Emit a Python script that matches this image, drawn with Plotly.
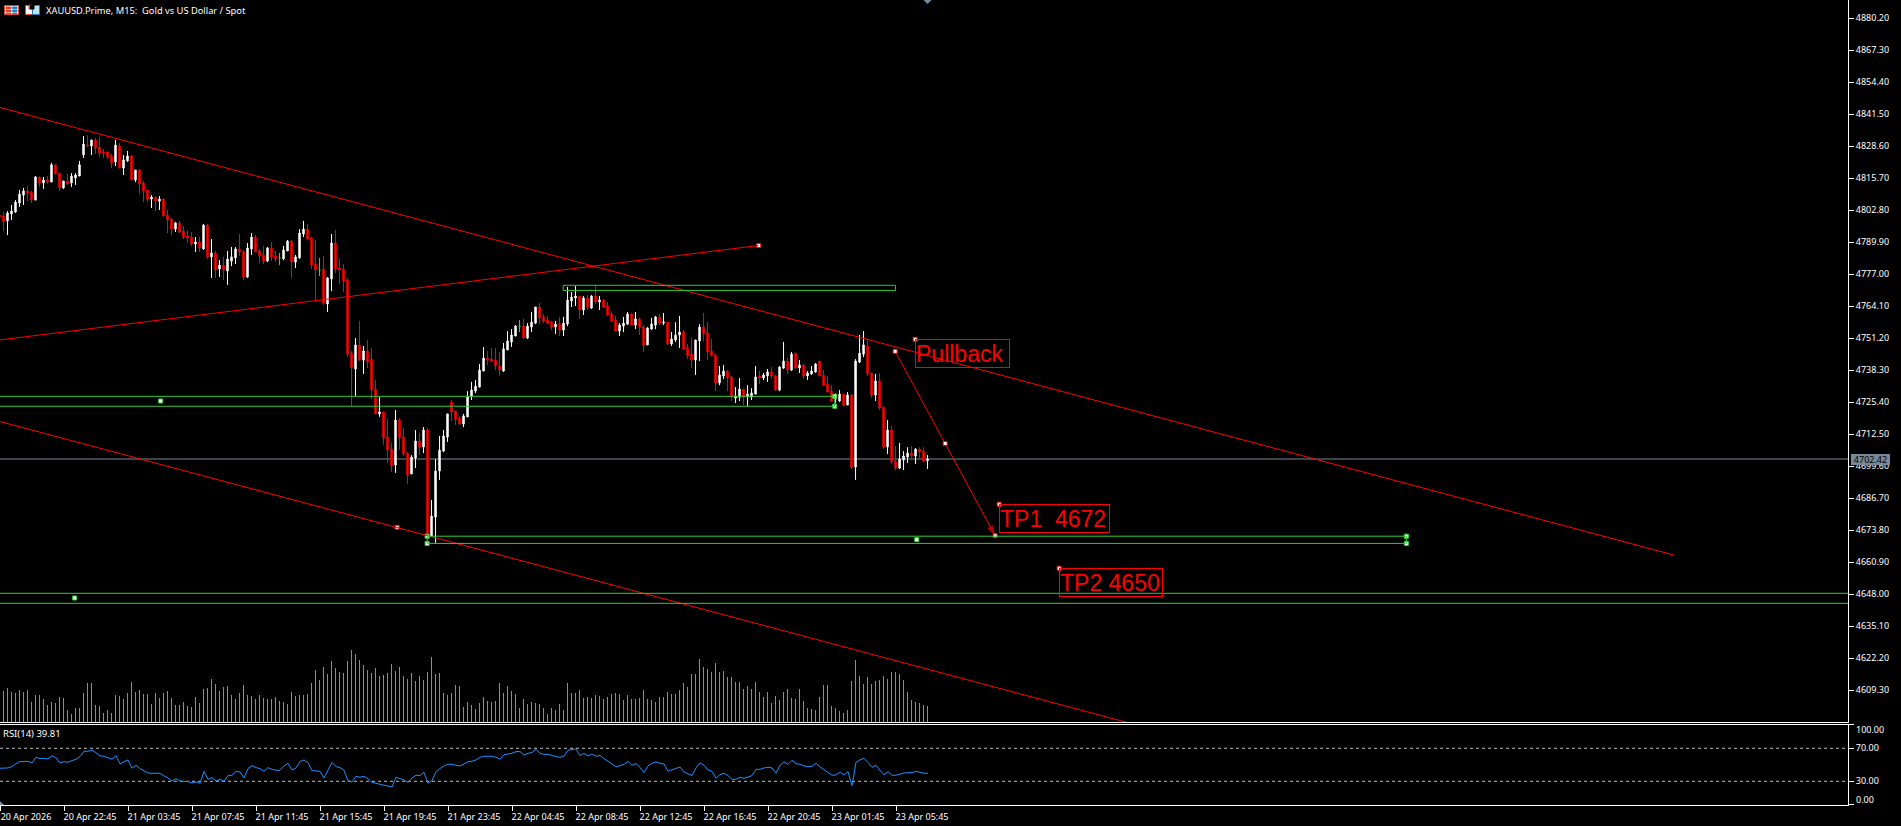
import plotly.graph_objects as go

# ---- data -------------------------------------------------------------
opens = [
4800.8,4800.4,4798.4,4801.2,4802.0,4805.6,4808.8,4810.5,4810.0,4806.8,
4816.1,4813.7,4814.9,4814.1,4821.0,4817.7,4811.7,4814.5,4813.7,4815.7,
4816.5,4825.0,4829.0,4828.6,4831.0,4828.2,4826.2,4826.2,4824.6,4822.2,
4828.6,4819.7,4822.6,4824.6,4814.9,4818.9,4813.7,4810.9,4807.2,4808.0,
4806.4,4807.2,4800.8,4799.2,4795.1,4797.6,4794.3,4792.3,4791.9,4789.1,
4789.9,4787.1,4796.7,4783.9,4785.5,4779.0,4780.6,4778.2,4782.2,4783.5,
4787.1,4785.9,4775.8,4787.1,4791.9,4786.3,4784.7,4782.2,4787.5,4784.3,
4783.5,4783.1,4786.3,4790.3,4781.8,4783.5,4793.1,4795.1,4791.5,4781.0,
4778.6,4779.0,4764.9,4775.0,4789.5,4779.4,4779.0,4774.6,4745.2,4738.7,
4748.4,4742.3,4746.0,4742.7,4730.6,4720.6,4721.4,4711.3,4706.5,4700.0,
4718.1,4711.3,4704.8,4696.4,4702.8,4709.7,4707.3,4714.1,4671.4,4679.0,
4697.6,4705.6,4711.3,4725.4,4721.8,4718.9,4716.5,4719.4,4727.8,4729.8,
4731.4,4737.9,4743.1,4742.7,4742.3,4739.9,4737.9,4746.4,4749.6,4752.0,
4755.8,4756.0,4751.2,4755.6,4757.2,4763.7,4759.7,4758.5,4757.6,4755.6,
4756.8,4754.4,4756.8,4766.1,4767.3,4768.1,4762.5,4767.3,4763.3,4768.1,
4765.7,4766.5,4764.1,4760.9,4758.5,4754.0,4756.0,4756.8,4760.9,4756.4,
4758.9,4755.6,4748.4,4754.8,4756.4,4759.7,4757.2,4757.6,4748.8,4750.4,
4752.4,4753.6,4747.2,4744.8,4742.3,4750.0,4755.6,4753.2,4746.0,4744.4,
4733.1,4735.9,4737.9,4735.5,4727.0,4727.3,4730.6,4727.4,4727.4,4728.6,
4735.9,4735.1,4735.9,4737.5,4735.9,4730.2,4739.1,4741.9,4738.3,4745.1,
4739.1,4740.3,4735.9,4736.7,4737.5,4741.9,4736.3,4732.6,4729.8,4726.6,
4725.8,4728.6,4724.2,4728.2,4699.2,4741.5,4744.7,4748.0,4737.1,4728.2,
4733.9,4723.4,4707.3,4714.1,4701.6,4698.8,4702.0,4703.2,4704.8,4703.6,
4706.4,4705.6,4701.8]
highs = [
4801.5,4802.0,4802.4,4804.8,4806.8,4810.9,4811.7,4812.5,4810.5,4816.5,
4816.1,4816.1,4816.5,4821.8,4821.0,4817.7,4814.5,4817.3,4817.7,4817.7,
4822.6,4832.6,4833.0,4831.0,4831.8,4832.2,4827.4,4826.2,4825.4,4831.0,
4829.8,4825.0,4826.6,4825.0,4818.9,4819.3,4814.5,4810.9,4808.8,4808.0,
4808.4,4807.6,4802.8,4799.6,4798.0,4798.4,4796.3,4794.7,4793.9,4791.9,
4791.9,4797.2,4797.2,4791.1,4786.3,4782.6,4783.9,4786.3,4787.9,4787.9,
4793.1,4786.7,4789.5,4793.5,4792.7,4787.1,4788.3,4787.9,4789.9,4786.3,
4785.5,4788.3,4790.7,4790.7,4784.7,4795.1,4798.4,4797.2,4791.9,4790.7,
4783.5,4784.3,4775.8,4793.1,4794.7,4783.1,4781.0,4775.4,4746.0,4751.2,
4758.1,4748.0,4750.4,4747.2,4734.3,4727.4,4721.4,4718.5,4708.9,4722.2,
4718.9,4714.9,4705.2,4704.0,4714.1,4712.9,4715.3,4714.9,4685.9,4702.4,
4711.7,4714.1,4720.6,4726.2,4721.8,4719.8,4720.6,4729.8,4733.5,4734.3,
4740.7,4747.6,4746.0,4747.2,4747.2,4745.6,4749.2,4754.0,4754.8,4756.4,
4758.5,4758.9,4757.2,4761.7,4763.7,4765.3,4760.9,4760.1,4758.1,4758.1,
4759.7,4759.7,4771.8,4769.7,4772.2,4768.1,4768.1,4768.5,4768.5,4772.2,
4768.1,4766.9,4765.7,4761.7,4760.1,4757.2,4759.7,4761.7,4761.3,4761.7,
4759.3,4756.4,4755.6,4759.3,4760.1,4760.9,4761.3,4757.6,4753.6,4757.6,
4760.1,4754.4,4748.8,4751.2,4750.4,4756.8,4761.3,4757.6,4750.8,4744.8,
4739.9,4740.3,4738.3,4735.9,4731.4,4735.1,4730.6,4732.2,4731.0,4739.9,
4737.9,4737.1,4738.7,4739.5,4736.3,4739.9,4749.6,4743.1,4745.6,4745.1,
4742.3,4740.7,4737.9,4739.9,4741.1,4741.9,4738.3,4735.9,4732.2,4728.6,
4730.2,4728.6,4729.4,4728.6,4742.7,4752.4,4754.0,4750.8,4737.1,4736.7,
4737.1,4723.4,4718.1,4715.7,4707.6,4708.9,4705.6,4707.2,4707.6,4706.8,
4707.2,4707.2,4704.0]
lows = [
4799.4,4794.3,4792.7,4798.8,4801.6,4804.0,4804.8,4806.4,4805.6,4806.8,
4812.1,4811.3,4813.3,4814.1,4817.3,4810.5,4811.3,4812.9,4812.1,4812.9,
4816.5,4823.8,4828.2,4825.0,4825.4,4824.2,4823.8,4823.4,4819.7,4820.5,
4819.7,4816.9,4822.2,4814.9,4814.1,4809.2,4806.0,4806.0,4803.6,4802.4,
4802.8,4800.4,4793.5,4792.7,4793.9,4793.5,4791.1,4789.5,4788.3,4785.9,
4785.9,4786.7,4783.1,4775.4,4775.4,4775.8,4774.6,4772.6,4780.2,4781.0,
4784.3,4774.6,4775.4,4784.7,4785.9,4781.4,4781.0,4781.8,4782.2,4781.8,
4780.6,4782.6,4786.3,4775.4,4779.4,4783.1,4791.9,4791.1,4779.0,4766.1,
4776.2,4764.5,4761.7,4770.1,4777.4,4773.0,4769.7,4743.5,4723.8,4727.8,
4741.9,4736.7,4739.1,4726.6,4720.6,4719.4,4708.1,4700.8,4697.2,4696.8,
4706.1,4703.6,4692.4,4696.4,4698.8,4704.0,4704.8,4671.4,4671.4,4668.6,
4694.0,4705.2,4709.3,4717.7,4716.1,4716.5,4715.3,4719.4,4726.2,4729.0,
4731.4,4737.9,4740.3,4741.5,4738.3,4735.9,4737.5,4746.4,4747.6,4752.0,
4753.6,4751.2,4750.8,4753.6,4756.8,4756.8,4757.2,4756.8,4754.4,4752.8,
4752.0,4752.0,4756.0,4763.7,4764.1,4758.9,4760.5,4762.5,4762.9,4764.9,
4762.5,4763.3,4760.1,4757.6,4754.0,4752.0,4753.6,4756.4,4756.4,4754.8,
4752.4,4745.6,4748.4,4754.4,4754.8,4756.4,4756.4,4748.4,4748.0,4749.6,
4747.2,4746.4,4742.7,4739.1,4736.3,4741.9,4750.0,4742.3,4744.0,4729.8,
4732.2,4734.7,4729.8,4725.8,4725.0,4725.8,4724.2,4723.8,4726.2,4728.6,
4732.7,4734.3,4733.5,4734.7,4729.8,4729.8,4738.7,4736.7,4737.9,4738.7,
4737.1,4734.7,4734.3,4736.3,4737.1,4735.9,4732.2,4729.4,4725.4,4724.9,
4725.4,4723.8,4724.2,4698.4,4694.0,4741.1,4743.5,4735.9,4727.0,4725.8,
4722.2,4706.5,4704.4,4700.4,4698.0,4698.4,4698.0,4700.8,4702.0,4700.4,
4702.4,4701.2,4698.4]
closes = [
4800.1,4798.2,4801.6,4802.4,4806.0,4809.2,4810.5,4809.7,4806.8,4816.1,
4813.7,4814.9,4814.1,4821.0,4817.3,4811.7,4814.5,4813.3,4816.5,4816.9,
4821.0,4829.4,4828.6,4831.0,4827.8,4825.8,4825.8,4824.2,4821.8,4829.0,
4819.7,4823.0,4824.6,4814.9,4818.9,4813.3,4810.5,4807.2,4808.0,4806.4,
4807.2,4800.4,4798.8,4795.1,4797.6,4793.9,4791.9,4791.5,4789.1,4789.9,
4787.5,4796.7,4783.9,4785.5,4778.6,4780.6,4778.6,4783.0,4783.9,4787.1,
4785.9,4775.8,4787.5,4791.9,4785.9,4784.3,4782.2,4787.5,4783.9,4783.1,
4783.5,4786.7,4790.3,4781.8,4783.9,4793.5,4795.1,4791.1,4780.6,4778.6,
4778.6,4765.3,4775.4,4789.5,4779.0,4778.6,4774.2,4744.7,4739.1,4748.4,
4742.3,4746.0,4741.5,4730.2,4720.6,4721.4,4710.9,4706.1,4699.6,4718.1,
4710.9,4704.4,4696.0,4703.2,4709.7,4707.3,4714.1,4671.4,4679.4,4697.6,
4706.0,4711.7,4720.6,4721.4,4718.5,4716.5,4719.8,4727.4,4730.2,4731.8,
4738.3,4743.1,4742.3,4741.9,4739.9,4738.3,4746.8,4750.0,4752.4,4756.0,
4755.8,4751.2,4756.0,4757.6,4763.7,4759.3,4758.1,4757.2,4755.6,4756.8,
4754.4,4757.2,4766.5,4767.7,4768.1,4762.5,4767.3,4763.7,4768.1,4765.7,
4766.5,4763.7,4760.5,4758.1,4754.0,4756.4,4757.2,4760.9,4756.4,4758.9,
4755.6,4748.4,4755.2,4756.8,4759.7,4757.2,4757.6,4748.8,4750.8,4752.4,
4753.6,4746.8,4744.0,4742.3,4750.4,4755.6,4752.8,4745.6,4744.0,4733.1,
4736.3,4737.9,4735.1,4727.4,4727.8,4730.6,4727.4,4728.6,4729.0,4735.5,
4735.1,4736.3,4737.5,4735.9,4730.2,4739.5,4741.9,4738.3,4744.7,4739.1,
4740.3,4735.9,4737.1,4737.9,4740.7,4735.9,4732.2,4729.4,4725.8,4728.6,
4728.6,4724.2,4728.2,4699.2,4741.9,4745.1,4748.4,4736.7,4728.2,4733.9,
4723.0,4707.3,4714.1,4701.2,4698.8,4702.4,4703.6,4704.8,4703.6,4706.4,
4705.2,4701.6,4702.4]
volumes = [
90,93,102,90,87,96,90,96,60,81,81,69,51,60,57,75,72,36,24,42,
42,87,117,117,51,48,27,36,27,81,78,69,87,120,90,96,84,84,54,87,
72,87,93,72,51,51,60,48,45,75,57,99,102,129,114,93,105,108,81,69,
87,111,81,78,69,81,72,69,69,75,63,60,54,90,78,81,81,84,117,156,
126,165,144,183,162,150,147,183,216,204,186,171,156,147,162,138,141,147,174,153,
165,138,129,147,123,138,126,150,195,144,147,87,81,87,111,108,45,60,51,39,
57,75,63,60,63,117,87,108,93,84,42,69,54,60,57,54,42,24,42,36,
54,36,117,87,87,96,72,75,72,81,78,69,75,84,87,84,66,81,69,69,
72,96,69,66,60,75,75,90,84,84,96,117,105,144,144,189,165,159,150,177,
150,153,135,135,120,120,99,108,99,120,90,75,90,57,78,66,90,99,72,69,
99,63,42,39,36,75,111,111,48,42,33,27,36,123,186,138,114,135,114,123,
126,138,129,150,150,144,126,90,66,60,57,51,48]
rsi_values = [
45.8,46.2,46.2,47.8,51.4,53.8,54.2,54.2,52.2,59.1,57.5,57.9,57.1,61.1,58.3,52.2,53.8,53.0,55.1,56.7,
59.9,66.4,66.4,67.6,64.7,60.7,60.3,58.3,56.7,61.1,51.0,53.8,55.9,45.8,49.4,45.4,42.9,40.1,39.7,39.7,
39.7,36.5,34.0,30.4,33.2,30.4,30.0,29.6,28.0,29.2,27.6,42.1,32.4,34.4,30.4,32.4,30.0,36.9,37.3,42.1,
41.3,34.0,45.4,49.0,46.6,45.4,42.1,46.6,44.5,43.3,43.3,48.6,51.8,43.7,46.2,53.8,55.9,52.6,42.9,42.5,
42.1,34.0,42.9,53.0,47.8,46.6,43.3,30.8,29.2,36.1,34.9,36.1,33.2,28.8,27.6,26.4,24.8,23.9,23.1,34.9,
33.2,31.6,28.8,34.0,37.3,36.9,40.9,27.6,30.8,41.7,45.4,48.6,50.6,50.6,49.4,48.6,51.0,53.8,54.2,55.9,
59.1,60.3,60.3,60.3,59.1,56.7,62.3,62.7,63.9,66.0,66.0,61.9,63.9,64.7,68.8,63.9,62.7,62.7,61.1,59.9,
59.1,60.3,67.6,68.4,69.2,61.1,63.9,60.7,63.1,60.3,61.5,57.5,54.6,51.0,47.4,49.0,50.6,54.2,49.4,51.4,
47.0,40.5,48.6,51.8,53.4,51.8,51.0,42.1,44.1,46.2,47.4,41.3,38.9,36.9,46.2,52.2,49.4,43.7,42.1,33.6,
38.1,39.7,36.9,32.4,32.4,34.9,33.6,35.7,36.9,44.5,44.5,46.2,47.0,46.2,39.7,49.4,53.4,50.6,55.5,51.4,
50.6,48.6,47.8,48.2,51.8,47.4,44.1,40.9,37.3,37.7,41.3,37.7,41.7,24.8,53.0,55.9,57.9,52.6,47.0,49.4,
43.7,37.7,41.7,37.3,37.3,38.9,40.1,40.5,40.5,42.1,40.9,39.7,39.81]

price_ticks = [4880.20,4867.30,4854.40,4841.50,4828.60,4815.70,4802.80,4789.90,4777.00,4764.10,4751.20,
               4738.30,4725.40,4712.50,4699.60,4686.70,4673.80,4660.90,4648.00,4635.10,4622.20,4609.30]
time_ticks = [0,16,32,48,64,80,96,112,128,144,160,176,192,208,224]
time_labels = ["20 Apr 2026","20 Apr 22:45","21 Apr 03:45","21 Apr 07:45","21 Apr 11:45","21 Apr 15:45",
               "21 Apr 19:45","21 Apr 23:45","22 Apr 04:45","22 Apr 08:45","22 Apr 12:45","22 Apr 16:45",
               "22 Apr 20:45","23 Apr 01:45","23 Apr 05:45"]
last_price = 4702.42

# drawn objects on the chart, in bar-index / price terms
upper_channel = ([0.08, 418.7], [4844.16, 4663.64])
lower_channel = ([0.08, 300.1], [4717.54, 4588.38])
rising_line = ([-1, 189.8], [4750.2, 4788.49])
pullback_path = ([223.9, 236.4, 248.9], [4745.84, 4708.7, 4671.5])
zones = [(-10, 208.8, 4723.7, 4727.7), (140.9, 224.0, 4770.4, 4772.45),
         (106.9, 351.7, 4668.4, 4671.3), (-10, 500, 4644.25, 4648.28)]
green_anchor_x = [40.3, 208.8, 208.8, 106.9, 106.9, 351.7, 351.7, 229.3, 18.8]
green_anchor_y = [4725.8, 4727.7, 4723.7, 4671.3, 4668.4, 4671.3, 4668.4, 4669.9, 4646.4]
red_anchor_x = [99.4, 189.8, 223.9, 236.4, 248.9, 228.9, 249.9, 264.9]
red_anchor_y = [4674.9, 4788.49, 4745.84, 4708.7, 4671.5, 4750.7, 4684.2, 4658.4]
labels = [("Pullback", 228.9, 4750.7, 93), ("TP1\u00a0\u00a04672", 249.9, 4684.2, 109), ("TP2 4650", 264.9, 4658.4, 102)]

# ---- layout constants ---------------------------------------------------
W, H = 1901, 826
PLOT_W, PLOT_H = 1848, 805
TXT = "Noto Sans"
LIME = "#32CD32"
SLATE = "#778899"
def px_x(x): return x / PLOT_W
def px_y(y): return 1 - y / PLOT_H

idx = list(range(len(opens)))
is_doji = [o == c for o, c in zip(opens, closes)]
def pick(a, keep): return [v for v, f in zip(a, is_doji) if f == keep]

fig = go.Figure()
fig.add_trace(go.Bar(x=list(range(len(volumes))), y=volumes, marker=dict(color=LIME, line_width=0), width=0.2,
                     xaxis="x", yaxis="y3", hoverinfo="skip"))
fig.add_trace(go.Candlestick(x=pick(idx, False), open=pick(opens, False), high=pick(highs, False),
                             low=pick(lows, False), close=pick(closes, False),
                             increasing=dict(line=dict(color="white", width=1), fillcolor="white"),
                             decreasing=dict(line=dict(color="#FF0000", width=1), fillcolor="#FF0000"),
                             whiskerwidth=0, xaxis="x", yaxis="y", hoverinfo="skip"))
fig.add_trace(go.Candlestick(x=pick(idx, True), open=pick(opens, True), high=pick(highs, True),
                             low=pick(lows, True), close=pick(closes, True),
                             increasing=dict(line=dict(color="#00FF00", width=1), fillcolor="#00FF00"),
                             decreasing=dict(line=dict(color="#00FF00", width=1), fillcolor="#00FF00"),
                             whiskerwidth=0, xaxis="x", yaxis="y", hoverinfo="skip"))
fig.add_trace(go.Scatter(x=pullback_path[0], y=pullback_path[1], mode="lines+markers",
                         line=dict(color="#FF0000", width=1),
                         marker=dict(symbol="arrow", size=[0, 0, 11], color="#FF0000", angleref="previous", line_width=0),
                         xaxis="x", yaxis="y", hoverinfo="skip"))
fig.add_trace(go.Scatter(x=green_anchor_x, y=green_anchor_y, mode="markers",
                         marker=dict(symbol="square", size=4, color="white", line=dict(color=LIME, width=1)),
                         xaxis="x", yaxis="y", hoverinfo="skip"))
fig.add_trace(go.Scatter(x=red_anchor_x, y=red_anchor_y, mode="markers",
                         marker=dict(symbol="square", size=4, color="white", line=dict(color="#FF0000", width=1)),
                         xaxis="x", yaxis="y", hoverinfo="skip"))
fig.add_trace(go.Scatter(x=list(range(len(rsi_values))), y=rsi_values, mode="lines",
                         line=dict(color="#1E90FF", width=1), xaxis="x2", yaxis="y2", hoverinfo="skip"))

shapes = []
for xs, ys in (upper_channel, lower_channel, rising_line):
    shapes.append(dict(type="line", xref="x", yref="y", x0=xs[0], x1=xs[1], y0=ys[0], y1=ys[1],
                       line=dict(color="#FF0000", width=1), layer="above"))
for x0, x1, y0, y1 in zones:
    shapes.append(dict(type="rect", xref="x", yref="y", x0=x0, x1=x1, y0=y0, y1=y1,
                       line=dict(color=LIME, width=1), fillcolor="rgba(0,0,0,0)", layer="above"))
shapes.append(dict(type="line", xref="paper", yref="y", x0=0, x1=1, y0=last_price, y1=last_price,
                   line=dict(color=SLATE, width=1), layer="below"))
for lvl in (70, 30):
    shapes.append(dict(type="line", xref="paper", yref="y2", x0=0, x1=1, y0=lvl, y1=lvl,
                       line=dict(color="#C0C0C0", width=1, dash="3px,3px"), layer="below"))
# the small toolbar icons at the top left
def box(x0, y0, x1, y1, fill, line=None):
    return dict(type="rect", xref="paper", yref="paper", x0=px_x(x0), x1=px_x(x1), y0=px_y(y0), y1=px_y(y1),
                fillcolor=fill, line=dict(color=line or fill, width=1), layer="above")
shapes += [box(4.5, 5.5, 18.5, 14.5, "white", "#E0402F"),
           box(6, 7, 11, 8.5, "#E0402F"), box(6, 10, 11, 11.5, "#E0402F"), box(6, 13, 11, 13.6, "#E0402F"),
           box(12.5, 7, 17, 8.5, "#1F7FC8"), box(12.5, 10, 17, 11.5, "#1F7FC8"), box(12.5, 13, 17, 13.6, "#1F7FC8"),
           box(25.5, 5.5, 32.5, 14.5, "white", "#E0402F"), box(29, 5, 32, 9, "#E0402F"),
           box(32.5, 5.5, 39.5, 14.5, "#BFE3F7", "#1F7FC8"), box(30.5, 5, 34, 9, "black")]
# the chart-shift and autoscroll triangles at the pane edges
def tri(pts):
    path = "M" + " L".join(f"{px_x(x):.6f},{px_y(y):.6f}" for x, y in pts) + " Z"
    return dict(type="path", xref="paper", yref="paper", path=path, fillcolor=SLATE, line=dict(color=SLATE, width=0), layer="above")
shapes += [tri([(923.5, 0), (931.5, 0), (927.5, 4)]), tri([(0, 801), (4, 805), (0, 805)])]

ann = [dict(xref="paper", yref="paper", x=px_x(44), y=px_y(10), xanchor="left", yanchor="middle", showarrow=False,
            text="XAUUSD.Prime, M15:\u00a0\u00a0Gold vs US Dollar / Spot", font=dict(family=TXT, size=9.3, color="white")),
       dict(xref="paper", yref="paper", x=px_x(1), y=px_y(733.7), xanchor="left", yanchor="middle", showarrow=False,
            text="RSI(14) 39.81", font=dict(family=TXT, size=9.5, color="white")),
       dict(xref="paper", yref="y", x=1851 / PLOT_W, y=last_price, xanchor="left", yanchor="middle", showarrow=False,
            text=f"{last_price:.2f}", width=39, height=11, bgcolor=SLATE, borderpad=0, borderwidth=0,
            font=dict(family=TXT, size=9, color="black")),
       dict(xref="paper", yref="paper", x=1854 / PLOT_W, y=px_y(729.3), xanchor="left", yanchor="middle", showarrow=False,
            text="100.00", font=dict(family=TXT, size=9, color="white")),
       dict(xref="paper", yref="paper", x=1854 / PLOT_W, y=px_y(799.5), xanchor="left", yanchor="middle", showarrow=False,
            text="0.00", font=dict(family=TXT, size=9, color="white"))]
for text, x, y, w in labels:
    ann.append(dict(xref="x", yref="y", x=x, y=y, xanchor="left", yanchor="top", showarrow=False, align="left",
                    text=text, width=w, height=27, borderpad=0, bordercolor="#FF0000", borderwidth=1,
                    font=dict(family="Liberation Sans", size=23, color="#FF0000")))

main_bottom = (PLOT_H - 722) / PLOT_H
axis_font = dict(family=TXT, size=9, color="white")
fig.update_layout(
    width=W, height=H, margin=dict(l=0, r=W - PLOT_W, t=0, b=H - PLOT_H), autosize=False,
    paper_bgcolor="black", plot_bgcolor="black", showlegend=False, boxgap=0.5, bargap=0,
    shapes=shapes, annotations=ann, hovermode=False,
    xaxis=dict(domain=[0, 1], range=[0.125, 462.1], anchor="y", showticklabels=False, ticks="", showgrid=False, zeroline=False,
               showline=True, linecolor="white", linewidth=1, rangeslider=dict(visible=False)),
    yaxis=dict(domain=[main_bottom, 1], range=[4596.4, 4887.46], side="right", anchor="x", showgrid=False, zeroline=False,
               tickvals=price_ticks, ticktext=[f"{v:.2f}" for v in price_ticks], ticks="outside", ticklen=5, tickcolor="white",
               tickfont=axis_font, showline=True, linecolor="white", linewidth=1),
    yaxis3=dict(domain=[main_bottom, 1], range=[0, 722 * 3], overlaying="y", anchor="x", visible=False),
    xaxis2=dict(domain=[0, 1], range=[0, 462], anchor="y2", showgrid=False, zeroline=False, tickvals=time_ticks,
                ticktext=time_labels, ticks="outside", ticklen=5, tickcolor="white", tickfont=axis_font,
                tickangle=0, ticklabelshift=26, ticklabelstandoff=-2, showline=True, mirror=True, linecolor="white", linewidth=1),
    yaxis2=dict(domain=[0, 80.5 / PLOT_H], range=[1.3, 98.8], side="right", anchor="x2", showgrid=False, zeroline=False,
                tickvals=[1.4, 30, 70, 98.7], ticktext=["", "30.00", "70.00", ""], ticks="outside", ticklen=5,
                tickcolor="white", tickfont=axis_font, showline=True, linecolor="white", linewidth=1),
)
fig.write_html("out.html", config={"displayModeBar": False},
               post_script="document.body.style.margin='0';document.body.style.background='black';")
